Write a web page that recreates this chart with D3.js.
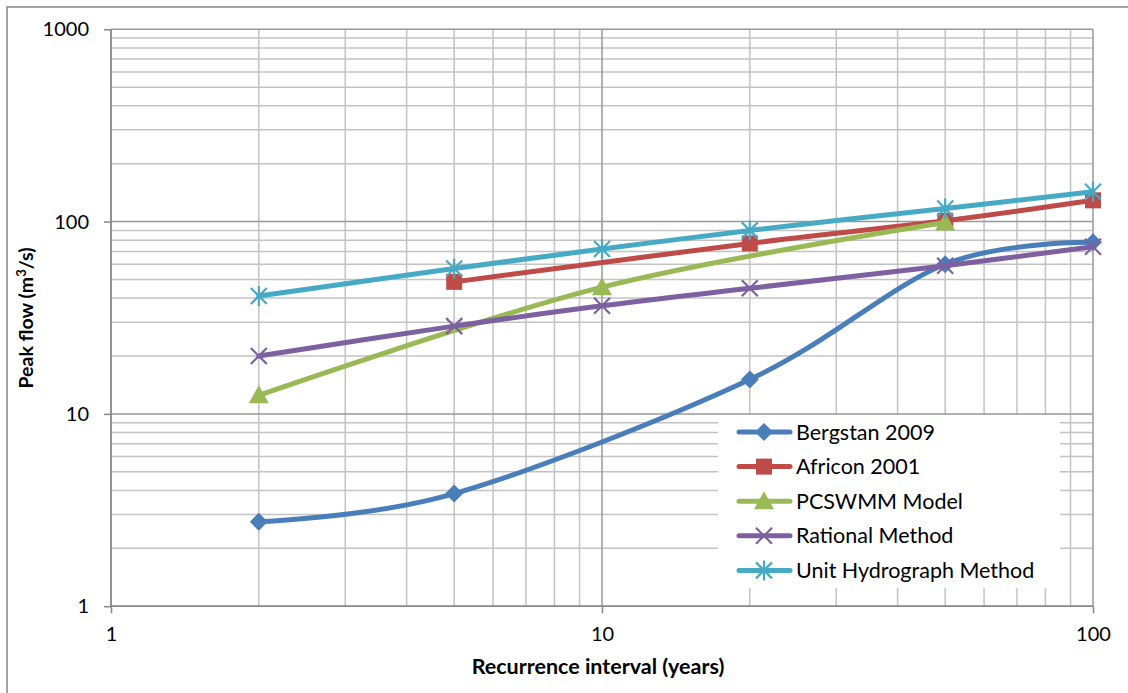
<!DOCTYPE html>
<html>
<head>
<meta charset="utf-8">
<script src="https://cdn.jsdelivr.net/npm/d3@7"></script>
<style>
  html, body { margin: 0; padding: 0; background: #fff; }
  svg { display: block; }
  text { font-family: "Lato", "Open Sans", sans-serif; fill: #000; }
</style>
</head>
<body>
<svg id="chart" width="1128" height="693"></svg>
<script>
// Recurrence intervals (years) and peak flows (m³/s) per method
const bergstanX = [2, 5, 20, 50, 100];
const bergstanY = [2.75, 3.85, 15.1, 60, 78];
const africonX = [5, 20, 50, 100];
const africonY = [48.6, 77, 101, 129];
const pcswmmX = [2, 10, 50];
const pcswmmY = [12.5, 45.6, 99];
const rationalX = [2, 5, 10, 20, 50, 100];
const rationalY = [20, 28.6, 36.5, 45, 59, 74];
const unitX = [2, 5, 10, 20, 50, 100];
const unitY = [41, 57, 72, 90, 117, 143];

const seriesNames = ["Bergstan 2009", "Africon 2001", "PCSWMM Model", "Rational Method", "Unit Hydrograph Method"];
const seriesColors = ["#4a7ebb", "#be4b48", "#98b954", "#7d60a0", "#46aac5"];
const seriesMarkers = ["diamond", "square", "triangle", "cross", "star"];

const xTicks = [1, 10, 100];
const yTicks = [1, 10, 100, 1000];
const xAxisTitle = "Recurrence interval (years)";

const series = [
  { x: bergstanX, y: bergstanY },
  { x: africonX, y: africonY },
  { x: pcswmmX, y: pcswmmY },
  { x: rationalX, y: rationalY },
  { x: unitX, y: unitY }
].map((s, i) => ({
  name: seriesNames[i], color: seriesColors[i], marker: seriesMarkers[i],
  points: s.x.map((xv, j) => [xv, s.y[j]])
}));

const svg = d3.select("#chart");
const plotLeft = 111, plotRight = 1093, plotTop = 29.3, plotBottom = 606.2;

const x = d3.scaleLog().domain([1, 100]).range([plotLeft, plotRight]);
const y = d3.scaleLog().domain([1, 1000]).range([plotBottom, plotTop]);

// outer chart frame
svg.append("rect").attr("x", 7).attr("y", 7).attr("width", 1140).attr("height", 700)
  .attr("fill", "#fff").attr("stroke", "#878787").attr("stroke-width", 1.5);

// gridlines: minor first, then majors on top
const minorX = [], minorY = [];
for (const d of [1, 10]) for (let k = 2; k <= 9; k++) minorX.push(d * k);
for (const d of [1, 10, 100]) for (let k = 2; k <= 9; k++) minorY.push(d * k);

const grid = svg.append("g");
grid.selectAll(".mx").data(minorX).join("line")
  .attr("x1", d => x(d)).attr("x2", d => x(d)).attr("y1", plotTop).attr("y2", plotBottom)
  .attr("stroke", "#c3c3c3").attr("stroke-width", 1.5);
grid.selectAll(".my").data(minorY).join("line")
  .attr("x1", plotLeft).attr("x2", plotRight).attr("y1", d => y(d)).attr("y2", d => y(d))
  .attr("stroke", "#c3c3c3").attr("stroke-width", 1.5);
grid.selectAll(".Mx").data([10, 100]).join("line")
  .attr("x1", d => x(d)).attr("x2", d => x(d)).attr("y1", plotTop).attr("y2", plotBottom)
  .attr("stroke", "#999").attr("stroke-width", 1.5);
grid.selectAll(".My").data([10, 100, 1000]).join("line")
  .attr("x1", plotLeft).attr("x2", plotRight).attr("y1", d => y(d)).attr("y2", d => y(d))
  .attr("stroke", "#999").attr("stroke-width", 1.5);

// axes
const yAxis = d3.axisLeft(y).tickValues(yTicks).tickFormat(d3.format("d")).tickSize(7).tickPadding(15);
const xAxis = d3.axisBottom(x).tickValues(xTicks).tickFormat(d3.format("d")).tickSize(7).tickPadding(14);

const gy = svg.append("g").attr("transform", `translate(${plotLeft},0)`).call(yAxis);
const gx = svg.append("g").attr("transform", `translate(0,${plotBottom})`).call(xAxis);
for (const g of [gx, gy]) {
  g.select(".domain").attr("stroke", "#878787").attr("stroke-width", 1.8);
  g.selectAll(".tick line").attr("stroke", "#878787").attr("stroke-width", 1.5);
  g.selectAll(".tick text").style("font-size", "20px").attr("fill", "#000");
}
gx.select(".domain").attr("d", `M${plotLeft},0H${plotRight}`);
gy.select(".domain").attr("d", `M0,${plotTop}V${plotBottom}`);

// axis titles
svg.append("text").attr("x", 598).attr("y", 674).attr("text-anchor", "middle")
  .style("font-size", "21.5px").style("font-weight", "bold").text(xAxisTitle);
const yt = svg.append("text").attr("transform", "translate(33,318) rotate(-90)")
  .attr("text-anchor", "middle").style("font-size", "19.5px").style("font-weight", "bold");
yt.append("tspan").text("Peak flow (m");
yt.append("tspan").attr("dy", -7).style("font-size", "13px").text("3");
yt.append("tspan").attr("dy", 7).text("/s)");

// marker shapes
function drawMarker(g, type, color) {
  if (type === "diamond") {
    g.append("path").attr("d", "M0,-9L9,0L0,9L-9,0Z").attr("fill", color);
  } else if (type === "square") {
    g.append("rect").attr("x", -8).attr("y", -8).attr("width", 16).attr("height", 16).attr("fill", color);
  } else if (type === "triangle") {
    g.append("path").attr("d", "M0,-10L10,8L-10,8Z").attr("fill", color);
  } else if (type === "cross") {
    g.append("path").attr("d", "M-8,-8L8,8M-8,8L8,-8").attr("stroke", color).attr("stroke-width", 2.2);
  } else if (type === "star") {
    g.append("path").attr("d", "M-8,-8L8,8M-8,8L8,-8M0,-10V10").attr("stroke", color).attr("stroke-width", 2.2);
  }
}

const line = d3.line().x(d => x(d[0])).y(d => y(d[1])).curve(d3.curveCardinal.tension(0));

const plot = svg.append("g");
series.forEach(s => {
  plot.append("path").attr("d", line(s.points)).attr("fill", "none")
    .attr("stroke", s.color).attr("stroke-width", 5).attr("stroke-linejoin", "round").attr("stroke-linecap", "round");
  s.points.forEach(p => {
    drawMarker(plot.append("g").attr("transform", `translate(${x(p[0])},${y(p[1])})`), s.marker, s.color);
  });
});

// legend
const lg = svg.append("g");
lg.append("rect").attr("x", 718).attr("y", 415).attr("width", 342).attr("height", 173).attr("fill", "#fff");
series.forEach((s, i) => {
  const cy = 432 + i * 34.6;
  lg.append("line").attr("x1", 739).attr("x2", 790).attr("y1", cy).attr("y2", cy)
    .attr("stroke", s.color).attr("stroke-width", 5).attr("stroke-linecap", "round");
  drawMarker(lg.append("g").attr("transform", `translate(764,${cy})`), s.marker, s.color);
  lg.append("text").attr("x", 796).attr("y", cy).attr("dy", "0.35em")
    .style("font-size", "21.5px").text(s.name);
});
</script>
</body>
</html>
